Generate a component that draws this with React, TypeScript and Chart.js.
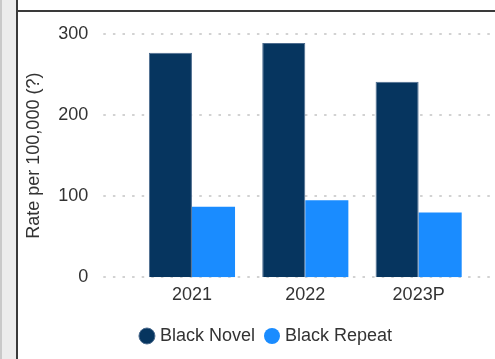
import React, { useEffect, useRef } from "react";
import { Chart, registerables } from "chart.js";

Chart.register(...registerables);

const categories = ["2021", "2022", "2023P"];
const novelValues = [277, 289, 241];
const repeatValues = [87, 95, 80];
const seriesNames = ["Black Novel", "Black Repeat"];
const yTicks = [0, 100, 200, 300];
const yTitle = "Rate per 100,000 (?)";

const FONT = "Arial, 'Liberation Sans', sans-serif";

const dottedGrid = {
  id: "dottedGrid",
  beforeDatasetsDraw(chart: any) {
    const { ctx, chartArea, scales } = chart;
    const y = scales.y;
    ctx.save();
    ctx.strokeStyle = "#d2d2d2";
    ctx.lineWidth = 2;
    ctx.setLineDash([2.5, 7.1]);
    for (const v of yTicks) {
      const py = Math.round(y.getPixelForValue(v));
      ctx.beginPath();
      ctx.moveTo(chartArea.left - 32, py);
      ctx.lineTo(chart.width, py);
      ctx.stroke();
    }
    ctx.restore();
  },
};

export default function App() {
  const ref = useRef<HTMLCanvasElement>(null);
  useEffect(() => {
    if (!ref.current) return;
    const chart = new Chart(ref.current, {
      type: "bar",
      data: {
        labels: categories,
        datasets: [
          {
            label: seriesNames[0],
            data: novelValues,
            backgroundColor: "#06355f",
            borderColor: "#4d6c8e",
            borderWidth: 1,
            categoryPercentage: 0.76,
            barPercentage: 1,
          },
          {
            label: seriesNames[1],
            data: repeatValues,
            backgroundColor: "#1a8cff",
            borderWidth: 0,
            categoryPercentage: 0.76,
            barPercentage: 1,
          },
        ],
      },
      options: {
        responsive: false,
        animation: false,
        devicePixelRatio: 1,
        layout: { padding: { left: 0, right: 0, top: 22, bottom: 4 } },
        plugins: {
          tooltip: { enabled: false },
          legend: {
            position: "bottom",
            labels: {
              usePointStyle: true,
              pointStyle: "circle",
              boxWidth: 8,
              boxHeight: 11.3,
              padding: 13,
              color: "#333",
              font: { family: FONT, size: 18 },
            },
          },
        },
        scales: {
          x: {
            grid: { display: false, drawTicks: false },
            border: { display: false },
            ticks: { color: "#333", font: { family: FONT, size: 18 }, padding: 7 },
            afterFit: (s: any) => {
              s.height = 36.7;
            },
          },
          y: {
            min: 0,
            max: 300,
            grid: { display: false, drawTicks: false },
            border: { display: false },
            ticks: {
              stepSize: 100,
              color: "#333",
              font: { family: FONT, size: 18 },
              padding: 47,
            },
            title: {
              display: true,
              text: yTitle,
              color: "#333",
              font: { family: FONT, size: 18 },
              padding: { top: 5.7, bottom: 0 },
            },
            afterFit: (s: any) => {
              s.width = 117.3;
              s.paddingTop = 11;
              s.paddingBottom = 11;
            },
          },
          yRight: {
            position: "right",
            display: true,
            grid: { display: false, drawTicks: false },
            border: { display: false },
            ticks: { display: false },
            afterFit: (s: any) => {
              s.width = 41.7;
              s.paddingTop = 0;
              s.paddingBottom = 0;
            },
          },
        },
      },
      plugins: [dottedGrid],
    });
    return () => chart.destroy();
  }, []);

  return (
    <div style={{ position: "fixed", left: 0, top: 0, width: 495, height: 359, background: "#fff", overflow: "hidden" }}>
      <div style={{ position: "absolute", left: 0, top: 0, width: 16, height: 359, background: "#ececec", borderLeft: "2px solid #c9c9c9", boxSizing: "border-box" }} />
      <div style={{ position: "absolute", left: 16, top: 0, width: 2, height: 359, background: "#3a3a3a" }} />
      <div style={{ position: "absolute", left: 16, top: 10, width: 479, height: 2, background: "#3a3a3a" }} />
      <div style={{ position: "absolute", left: 18, top: 12, width: 477, height: 347, overflow: "hidden" }}>
        <canvas ref={ref} width={499} height={347} style={{ display: "block" }} />
      </div>
    </div>
  );
}
